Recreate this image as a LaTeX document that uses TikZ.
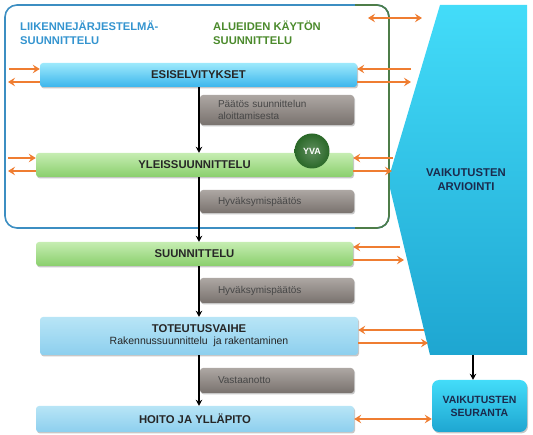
\documentclass[tikz,border=0pt]{standalone}
\usepackage{fontspec}
\setmainfont{Liberation Sans}
\usetikzlibrary{arrows.meta,shadows,calc}
\definecolor{esitop}{HTML}{9DE9FC}
\definecolor{esibot}{HTML}{3CB6EC}
\definecolor{grtop}{HTML}{C6EDB2}
\definecolor{grbot}{HTML}{8ACF6C}
\definecolor{lbtop}{HTML}{B8E5F6}
\definecolor{lbbot}{HTML}{8DCFEE}
\definecolor{gytop}{HTML}{ADA7A3}
\definecolor{gybot}{HTML}{79726E}
\definecolor{polytop}{HTML}{43DCF9}
\definecolor{polybot}{HTML}{1EA6D1}
\definecolor{orng}{HTML}{EF7D31}
\definecolor{ttblue}{HTML}{3494CF}
\definecolor{ttgreen}{HTML}{4B8A2C}
\definecolor{boxblue}{HTML}{3C8EC2}
\definecolor{boxgreen}{HTML}{4E7D48}
\definecolor{navy}{HTML}{1B2B4D}
\definecolor{yva}{HTML}{2A6828}
\begin{document}
\begin{tikzpicture}[x=1pt,y=-1pt,
  shad/.style={drop shadow={shadow xshift=1pt,shadow yshift=-1.5pt,opacity=.22,fill=black}},
  bar/.style={rounded corners=3pt, inner sep=0pt, minimum height=24pt, minimum width=317pt,
    font=\bfseries\fontsize{11.3}{13}\selectfont, text=black!85, align=center, shad},
  bluebar/.style={bar, top color=esitop, bottom color=esibot},
  greenbar/.style={bar, top color=grtop, bottom color=grbot},
  lightbar/.style={bar, top color=lbtop, bottom color=lbbot},
  graybox/.style={rounded corners=3pt, top color=gytop, bottom color=gybot, shad,
    minimum width=154pt, text width=118pt, inner xsep=18pt, inner ysep=0pt, align=left,
    font=\fontsize{10}{12}\selectfont, text=black!72},
  oarr/.style={draw=orng, line width=1.8pt, -{Stealth[length=7pt,width=8.5pt,inset=2.5pt]}},
  oarr2/.style={draw=orng, line width=1.8pt, {Stealth[length=7pt,width=8.5pt,inset=2.5pt]}-{Stealth[length=7pt,width=8.5pt,inset=2.5pt]}},
  flow/.style={draw=black, line width=1.3pt, -{Stealth[length=6pt,width=6.5pt]}},
  title/.style={font=\bfseries\fontsize{11.2}{14}\selectfont, align=left, anchor=north west, inner sep=0pt}
]
\useasboundingbox (0,0) rectangle (533,435);

% big assessment shape
\shade[top color=polytop, bottom color=polybot] (440,5) -- (527,5) -- (527,355) -- (430,355) -- (388,180) -- cycle;
\node[font=\bfseries\fontsize{11.3}{14}\selectfont, text=navy, align=center] (arv) at (466,180) {VAIKUTUSTEN\\ARVIOINTI};
\coordinate (arvbot) at (473,355);

% outer rounded frame (blue left, green right)
\draw[boxblue, line width=1.6pt, rounded corners=12pt] (5,5) rectangle (389,228);
\begin{scope}
  \clip (355,0) rectangle (400,235);
  \draw[boxgreen, line width=1.6pt, rounded corners=12pt] (5,5) rectangle (389,228);
\end{scope}

\node[title, text=ttblue] (t1) at (20,20.5) {LIIKENNEJÄRJESTELMÄ-\\SUUNNITTELU};
\node[title, text=ttgreen] (t2) at (213,20.5) {ALUEIDEN KÄYTÖN\\SUUNNITTELU};

% bars
\node[bluebar] (esi) at (198.5,75) {ESISELVITYKSET};
\node[greenbar] (yle) at (194.5,165) {YLEISSUUNNITTELU};
\node[greenbar] (suu) at (194.5,254) {SUUNNITTELU};
\node[lightbar, minimum height=38pt, minimum width=318pt] (tot) at (199,336)
  {TOTEUTUSVAIHE\\[-1pt]{\mdseries\fontsize{10.5}{13}\selectfont Rakennussuunnittelu\ \ ja rakentaminen}};
\node[lightbar, minimum height=26pt, minimum width=318pt] (hoi) at (195,419) {HOITO JA YLLÄPITO};

% grey decision boxes
\node[graybox, minimum height=30pt] (g1) at (277,110) {Päätös suunnittelun\\aloittamisesta};
\node[graybox, minimum height=23pt] (g2) at (277,201.5) {Hyväksymispäätös};
\node[graybox, minimum height=25pt] (g3) at (277,290.5) {Hyväksymispäätös};
\node[graybox, minimum height=25pt] (g4) at (277,380.5) {Vastaanotto};

% YVA circle
\node[circle, minimum size=35pt, inner sep=0pt, inner color=yva!75!white, outer color=yva,
  font=\bfseries\fontsize{9}{10}\selectfont, text=white] (yvac) at (312,151) {YVA};

% follow-up box
\node[rounded corners=7pt, top color=polytop, bottom color=polybot, shad,
  minimum width=95pt, minimum height=52pt, inner sep=0pt, align=center,
  font=\bfseries\fontsize{10.5}{13}\selectfont, text=navy] (seu) at (479.5,406) {VAIKUTUSTEN\\SEURANTA};

% vertical flow
\coordinate (vx) at (199,0);
\draw[flow] (esi.south -| vx) -- (yle.north -| vx);
\draw[flow] (yle.south -| vx) -- (suu.north -| vx);
\draw[flow] (suu.south -| vx) -- (tot.north -| vx);
\draw[flow] (tot.south -| vx) -- (hoi.north -| vx);
\draw[flow] (arvbot) -- (seu.north -| arvbot);

% orange arrows, left side
\coordinate (la1) at (9,69);
\coordinate (la2) at (8,82);
\coordinate (lb1) at (8,158);
\coordinate (lb2) at (8,171);
\draw[oarr] (la1) -- (la1 -| esi.west);
\draw[oarr] (la2 -| esi.west) -- (la2);
\draw[oarr] (lb1) -- (lb1 -| yle.west);
\draw[oarr] (lb2 -| yle.west) -- (lb2);

% orange arrows, right side
\coordinate (ra1) at (411,69);
\coordinate (ra2) at (411,82);
\coordinate (rb1) at (393,158);
\coordinate (rb2) at (392,171);
\coordinate (rc1) at (400,247);
\coordinate (rc2) at (404,260);
\coordinate (rd1) at (424,330);
\coordinate (rd2) at (428,343);
\draw[oarr] (ra1) -- (ra1 -| esi.east);
\draw[oarr] (ra2 -| esi.east) -- (ra2);
\draw[oarr] (rb1) -- (rb1 -| yle.east);
\draw[oarr] (rb2 -| yle.east) -- (rb2);
\draw[oarr] (rc1) -- (rc1 -| suu.east);
\draw[oarr] (rc2 -| suu.east) -- (rc2);
\draw[oarr] (rd1) -- (rd1 -| tot.east);
\draw[oarr] (rd2 -| tot.east) -- (rd2);
\draw[oarr2] (hoi.east) -- (hoi.east -| seu.west);

% top double arrow
\coordinate (ta) at (368,18);
\coordinate (tb) at (422,18);
\draw[oarr2] (ta) -- (tb);
\end{tikzpicture}
\end{document}
